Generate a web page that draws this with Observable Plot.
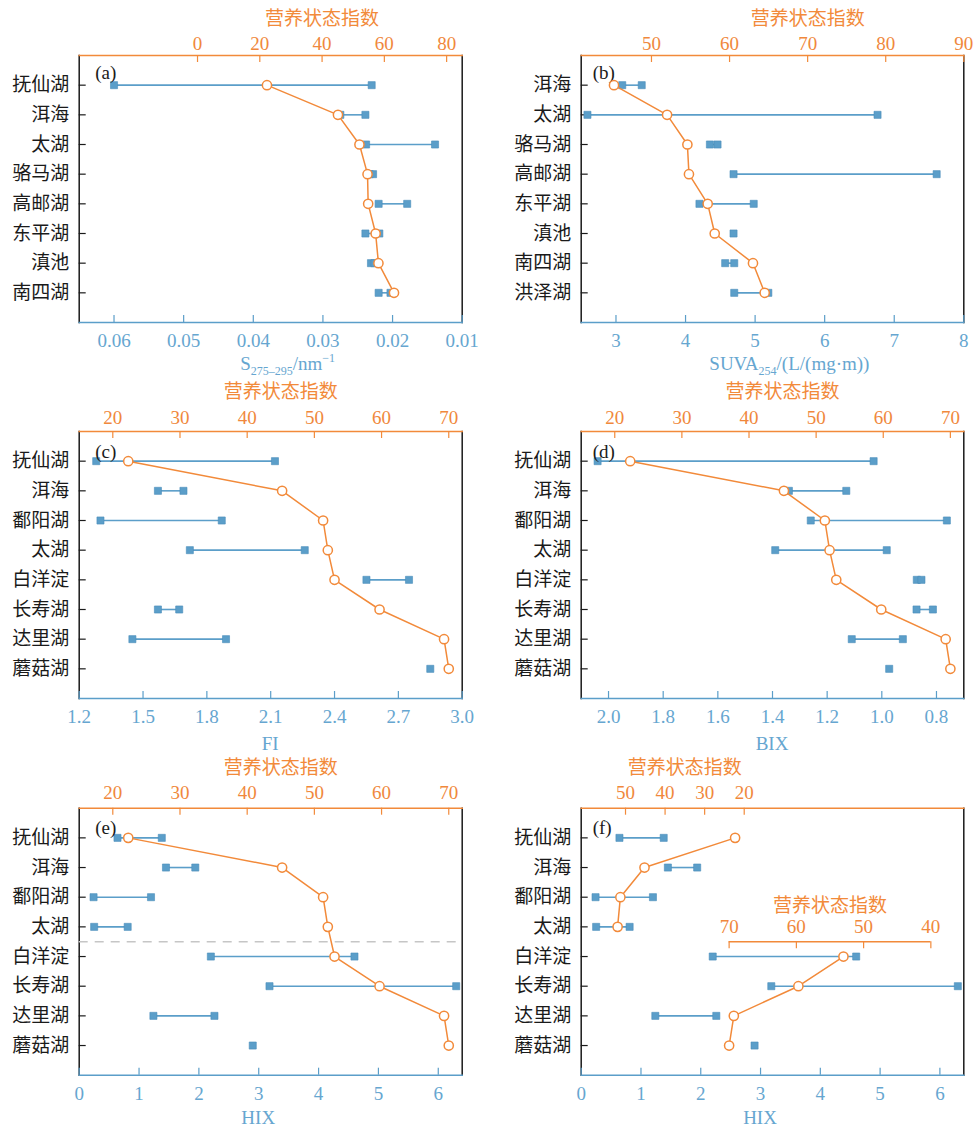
<!DOCTYPE html>
<html>
<head>
<meta charset="utf-8">
<script src="https://cdn.jsdelivr.net/npm/d3@7"></script>
<script src="https://cdn.jsdelivr.net/npm/@observablehq/plot@0.6"></script>
<style>
  html, body { margin: 0; padding: 0; background: #fff; }
  #chart { position: relative; width: 975px; height: 1127px; overflow: hidden; }
  #chart svg { position: absolute; }
</style>
</head>
<body>
<div id="chart"></div>
<script>
// ---- (a) S275–295 and (b) SUVA254 lakes ----
const lakesA = ["抚仙湖", "洱海", "太湖", "骆马湖", "高邮湖", "东平湖", "滇池", "南四湖"];
const tsiA = [22.3, 45.1, 52.0, 54.6, 54.8, 57.2, 58.1, 63.1];
const slopeLow = [0.0600, 0.0275, 0.0238, 0.0233, 0.0220, 0.0239, 0.0231, 0.0220];
const slopeHigh = [0.0230, 0.0239, 0.0139, 0.0228, 0.0179, 0.0219, 0.0226, 0.0203];

const lakesB = ["洱海", "太湖", "骆马湖", "高邮湖", "东平湖", "滇池", "南四湖", "洪泽湖"];
const tsiB = [45.2, 52.0, 54.6, 54.8, 57.2, 58.1, 63.0, 64.5];
const suvaLow = [3.09, 2.59, 4.35, 4.69, 4.20, 4.69, 4.57, 4.70];
const suvaHigh = [3.37, 6.76, 4.46, 7.61, 4.98, 4.69, 4.70, 5.19];

// ---- (c)–(f) fluorescence indices ----
const lakesC = ["抚仙湖", "洱海", "鄱阳湖", "太湖", "白洋淀", "长寿湖", "达里湖", "蘑菇湖"];
const tsiC = [22.3, 45.2, 51.3, 52.0, 53.0, 59.7, 69.3, 70.0];
const fiLow = [1.28, 1.57, 1.30, 1.72, 2.55, 1.57, 1.45, 2.85];
const fiHigh = [2.12, 1.69, 1.87, 2.26, 2.75, 1.67, 1.89, 2.85];
const bixLow = [2.04, 1.34, 1.26, 1.39, 0.872, 0.873, 1.11, 0.973];
const bixHigh = [1.03, 1.13, 0.762, 0.982, 0.855, 0.813, 0.923, 0.973];
const hixLow = [0.64, 1.45, 0.24, 0.25, 2.20, 3.18, 1.24, 2.90];
const hixHigh = [1.38, 1.94, 1.20, 0.81, 4.60, 6.30, 2.26, 2.90];

// ---- tick labels ----
const ticksS = [0.06, 0.05, 0.04, 0.03, 0.02, 0.01];
const ticksSuva = [3, 4, 5, 6, 7, 8];
const ticksFI = [1.2, 1.5, 1.8, 2.1, 2.4, 2.7, 3.0];
const ticksBIX = [2.0, 1.8, 1.6, 1.4, 1.2, 1.0, 0.8];
const ticksHIX = [0, 1, 2, 3, 4, 5, 6];
const ticksTsiA = [0, 20, 40, 60, 80];
const ticksTsiB = [50, 60, 70, 80, 90];
const ticksTsiC = [20, 30, 40, 50, 60, 70];
const ticksTsiFTop = [50, 40, 30, 20];
const ticksTsiFInner = [70, 60, 50, 40];

const tsiTitle = "营养状态指数";

// ---- styling & layout ----
const orange = "#F28A3A", orangeText = "#F0883C";
const blue = "#5B9EC9", blueText = "#66A6D0";
const ink = "#1a1a1a";
const font = '"Liberation Serif", "Noto Sans CJK SC", serif';
const FRAME_H = 267;
const rows = [
  {top: 0,   mt: 55,   h: 375, topPad: 6, titleUp: 37,   botPad: 10.5, baseDown: 48,   letterDy: 17},
  {top: 375, mt: 56,   h: 375, topPad: 8, titleUp: 39.5, botPad: 11,   baseDown: 51.5, letterDy: 20},
  {top: 750, mt: 57.7, h: 377, topPad: 9, titleUp: 40,   botPad: 11.5, baseDown: 49,   letterDy: 20}
];
const cols = [
  {left: 0,   w: 487, ml: 78.7, mr: 25.3, letterDx: 16},
  {left: 487, w: 488, ml: 93.7, mr: 11.7, letterDx: 11.5}
];
const chart = document.getElementById("chart");

function layer(col, row, xDomain, yOpts, marks) {
  const svg = Plot.plot({
    width: col.w, height: row.h,
    marginLeft: col.ml, marginRight: col.mr,
    marginTop: row.mt, marginBottom: row.h - row.mt - FRAME_H,
    x: {domain: xDomain, axis: null, label: null},
    y: {...yOpts, axis: null, label: null},
    style: {background: "transparent", fontFamily: font, fontSize: "19px", overflow: "visible", maxWidth: "none"},
    marks
  });
  svg.style.left = col.left + "px";
  svg.style.top = row.top + "px";
  chart.append(svg);
  return svg;
}

// axis title with optional subscript / superscript parts
function richTitle(svg, x, y, parts, fill) {
  const t = d3.select(svg).append("text")
    .attr("x", x).attr("y", y)
    .attr("text-anchor", "middle")
    .attr("fill", fill)
    .style("font-family", font)
    .style("font-size", "19px");
  let shift = 0;
  for (const [str, kind] of parts) {
    const want = kind === "sub" ? 5 : kind === "sup" ? -8 : 0;
    t.append("tspan")
      .attr("dy", want - shift)
      .style("font-size", kind ? "12px" : "19px")
      .text(str);
    shift = want;
  }
}

function panel({col, row, letter, lakes, low, high, xDomain, xTicks, xFormat, xTitle, dashed, tsiLayers}) {
  const frameW = col.w - col.ml - col.mr;
  const step = FRAME_H / (lakes.length + 1);
  const yOpts = {domain: lakes, padding: 1, round: false};
  const segs = lakes.map((lake, i) => ({lake, lo: low[i], hi: high[i]}));
  const pts = segs.flatMap(d => d.lo === d.hi
    ? [{lake: d.lake, v: d.lo}]
    : [{lake: d.lake, v: d.lo}, {lake: d.lake, v: d.hi}]);

  // variable scale: frame, bottom axis, lake axis, ranges
  const base = layer(col, row, xDomain, yOpts, [
    Plot.frame({anchor: "left", stroke: ink, strokeWidth: 1.5}),
    Plot.frame({anchor: "right", stroke: ink, strokeWidth: 1.5}),
    Plot.frame({anchor: "bottom", stroke: blue, strokeWidth: 1.5}),
    Plot.tickX(xTicks, {x: d => d, insetTop: FRAME_H - 7, stroke: blue, strokeWidth: 1.2}),
    Plot.axisX({anchor: "bottom", ticks: xTicks, tickSize: 0, tickPadding: row.botPad,
                tickFormat: xFormat, fill: blueText, label: null}),
    Plot.tickY(lakes, {y: d => d, insetRight: frameW - 7, stroke: ink, strokeWidth: 1.2}),
    Plot.axisY({anchor: "left", ticks: lakes, tickSize: 0, tickPadding: 10, fill: ink, label: null}),
    dashed ? Plot.ruleY([dashed], {y: d => d, dy: step / 2, stroke: "#c6c6c6",
                                    strokeWidth: 1.5, strokeDasharray: "9,7"}) : null,
    Plot.ruleY(segs, {y: "lake", x1: "lo", x2: "hi", stroke: blue, strokeWidth: 1.6}),
    Plot.dot(pts, {x: "v", y: "lake", symbol: "square", r: 4, fill: blue,
                   stroke: "#4a8dbb", strokeWidth: 0.6}),
    Plot.text([letter], {frameAnchor: "top-left", dx: col.letterDx, dy: row.letterDy,
                         textAnchor: "start", lineAnchor: "middle", fill: ink})
  ]);
  const xs = base.scale("x");
  richTitle(base, xs.apply(d3.mean(d3.extent(xTicks))), row.mt + FRAME_H + row.baseDown, xTitle, blueText);

  // trophic state index scale(s)
  for (const L of tsiLayers) {
    const data = L.idx.map(i => ({lake: lakes[i], tsi: L.tsi[i]}));
    const marks = [];
    if (L.axis === "top") {
      marks.push(
        Plot.frame({anchor: "top", stroke: orange, strokeWidth: 1.5}),
        Plot.tickX(L.ticks, {x: d => d, insetBottom: FRAME_H - 7, stroke: orange, strokeWidth: 1.2}),
        Plot.axisX({anchor: "top", ticks: L.ticks, tickSize: 0, tickPadding: row.topPad,
                    fill: orangeText, label: null}),
        Plot.text([{x: d3.mean(d3.extent(L.ticks)), t: tsiTitle}],
                  {x: "x", text: "t", frameAnchor: "top", dy: -row.titleUp, lineAnchor: "middle", fill: orange})
      );
    }
    marks.push(
      Plot.line(data, {x: "tsi", y: "lake", stroke: orange, strokeWidth: 1.5}),
      Plot.dot(data, {x: "tsi", y: "lake", r: 4.6, fill: "white", stroke: orange, strokeWidth: 1.5})
    );
    layer(col, row, L.domain, yOpts, marks);

    if (L.axis === "inner") {
      // secondary index axis drawn across the middle of the frame
      const axisPx = row.mt + FRAME_H / 2;
      const ends = [{y: 0, a: L.ticks[0], b: L.ticks[L.ticks.length - 1]}];
      layer(col, row, L.domain, {domain: [0, 1], range: [axisPx, axisPx + 7]}, [
        Plot.ruleY(ends, {y: "y", x1: "a", x2: "b", stroke: orange, strokeWidth: 1.5}),
        Plot.ruleX(L.ticks, {x: d => d, y1: () => 0, y2: () => 1, stroke: orange, strokeWidth: 1.2}),
        Plot.text(L.ticks, {x: d => d, y: () => 0, dy: -8.5, lineAnchor: "bottom",
                            text: d => String(d), fill: orangeText}),
        Plot.text([{x: d3.mean(d3.extent(L.ticks)), t: tsiTitle}],
                  {x: "x", y: () => 0, text: "t", dy: -35.5, lineAnchor: "middle", fill: orange})
      ]);
    }
  }
}

const all = [0, 1, 2, 3, 4, 5, 6, 7];

panel({col: cols[0], row: rows[0], letter: "(a)", lakes: lakesA, low: slopeLow, high: slopeHigh,
  xDomain: [0.065, 0.01], xTicks: ticksS, xFormat: d3.format(".2f"),
  xTitle: [["S"], ["275–295", "sub"], ["/nm"], ["−1", "sup"]],
  tsiLayers: [{idx: all, tsi: tsiA, domain: [-38, 85], ticks: ticksTsiA, axis: "top"}]});

panel({col: cols[1], row: rows[0], letter: "(b)", lakes: lakesB, low: suvaLow, high: suvaHigh,
  xDomain: [2.5, 8], xTicks: ticksSuva, xFormat: d3.format("d"),
  xTitle: [["SUVA"], ["254", "sub"], ["/(L/(mg·m))"]],
  tsiLayers: [{idx: all, tsi: tsiB, domain: [41, 90], ticks: ticksTsiB, axis: "top"}]});

panel({col: cols[0], row: rows[1], letter: "(c)", lakes: lakesC, low: fiLow, high: fiHigh,
  xDomain: [1.2, 3.0], xTicks: ticksFI, xFormat: d3.format(".1f"),
  xTitle: [["FI"]],
  tsiLayers: [{idx: all, tsi: tsiC, domain: [15, 72], ticks: ticksTsiC, axis: "top"}]});

panel({col: cols[1], row: rows[1], letter: "(d)", lakes: lakesC, low: bixLow, high: bixHigh,
  xDomain: [2.1, 0.7], xTicks: ticksBIX, xFormat: d3.format(".1f"),
  xTitle: [["BIX"]],
  tsiLayers: [{idx: all, tsi: tsiC, domain: [15, 72], ticks: ticksTsiC, axis: "top"}]});

panel({col: cols[0], row: rows[2], letter: "(e)", lakes: lakesC, low: hixLow, high: hixHigh,
  xDomain: [0, 6.4], xTicks: ticksHIX, xFormat: d3.format("d"),
  xTitle: [["HIX"]], dashed: "太湖",
  tsiLayers: [{idx: all, tsi: tsiC, domain: [15, 72], ticks: ticksTsiC, axis: "top"}]});

panel({col: cols[1], row: rows[2], letter: "(f)", lakes: lakesC, low: hixLow, high: hixHigh,
  xDomain: [0, 6.4], xTicks: ticksHIX, xFormat: d3.format("d"),
  xTitle: [["HIX"]],
  tsiLayers: [
    {idx: [0, 1, 2, 3], tsi: tsiC, domain: [61.2, -35.5], ticks: ticksTsiFTop, axis: "top"},
    {idx: [4, 5, 6, 7], tsi: tsiC, domain: [92, 35.1], ticks: ticksTsiFInner, axis: "inner"}
  ]});
</script>
</body>
</html>
